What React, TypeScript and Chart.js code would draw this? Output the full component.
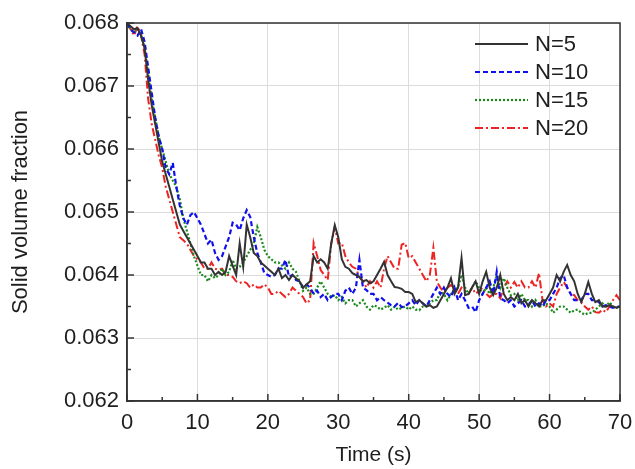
import React, { useEffect, useRef } from "react";
import { Chart, registerables } from "chart.js";

Chart.register(...registerables);

const TIME_STEP = 0.5;

const seriesLabels = ["N=5", "N=10", "N=15", "N=20"];

const n5 = [
  0.0680, 0.06795, 0.0679, 0.06792, 0.0678, 0.0676, 0.0671, 0.0667, 0.0664, 0.0661,
  0.0658, 0.0656, 0.0654, 0.0652, 0.0650, 0.0648, 0.0647, 0.0646, 0.0645, 0.0644,
  0.0643, 0.0642, 0.0642, 0.0641, 0.0641, 0.0640, 0.06405, 0.0640, 0.06405, 0.0643,
  0.06415, 0.0640, 0.0645, 0.06413, 0.0648, 0.0646, 0.06435, 0.0643, 0.0642, 0.06415,
  0.0641, 0.06405, 0.0640, 0.0641, 0.06395, 0.0640, 0.06392, 0.0640, 0.06395, 0.0639,
  0.0638, 0.06385, 0.0639, 0.0643, 0.0642, 0.06425, 0.0642, 0.0641, 0.0645, 0.06479,
  0.0646, 0.06425, 0.06413, 0.0641, 0.06403, 0.0640, 0.06397, 0.0639, 0.06392, 0.06387,
  0.0639, 0.0640, 0.0641, 0.06421, 0.0640, 0.0639, 0.06381, 0.0638, 0.06378, 0.06373,
  0.06373, 0.0637, 0.06357, 0.0636, 0.06355, 0.0635, 0.06352, 0.06348, 0.0635, 0.0636,
  0.0637, 0.0638, 0.06395, 0.0637, 0.0638, 0.06427, 0.06368, 0.0637, 0.0638, 0.0639,
  0.0637, 0.0639, 0.06405, 0.0638, 0.06368, 0.0638, 0.0640, 0.0637, 0.0636, 0.06365,
  0.0636, 0.0637, 0.06355, 0.0636, 0.0635, 0.0636, 0.06355, 0.0635, 0.0636, 0.0636,
  0.0637, 0.0638, 0.0640, 0.0639, 0.06405, 0.06416, 0.0640, 0.0639, 0.0637, 0.06357,
  0.0637, 0.06389, 0.0637, 0.06357, 0.0636, 0.0635, 0.0635, 0.06352, 0.0635, 0.06348,
  0.0635,
];

const n10 = [
  0.0680, 0.0679, 0.06785, 0.0678, 0.0679, 0.0677, 0.0673, 0.0669, 0.0665, 0.0662,
  0.0660, 0.0657, 0.0656, 0.06578, 0.0654, 0.0651, 0.0649, 0.0648, 0.06495, 0.0650,
  0.0649, 0.0648, 0.06465, 0.0645, 0.06456, 0.06435, 0.06424, 0.0643, 0.06445, 0.0646,
  0.06483, 0.0648, 0.06471, 0.0649, 0.06503, 0.06492, 0.0646, 0.06435, 0.0642, 0.06403,
  0.0640, 0.06397, 0.0640, 0.0641, 0.0641, 0.06424, 0.06397, 0.0640, 0.06392, 0.0639,
  0.0638, 0.06385, 0.0638, 0.0637, 0.06375, 0.06365, 0.0637, 0.0636, 0.06365, 0.0637,
  0.0637, 0.0636, 0.06375, 0.0638, 0.0637, 0.0638, 0.06424, 0.0638, 0.06376, 0.0637,
  0.0637, 0.0636, 0.06365, 0.0636, 0.06356, 0.06352, 0.0635, 0.06356, 0.06349, 0.0635,
  0.06355, 0.0636, 0.06352, 0.0636, 0.06355, 0.0635, 0.0636, 0.0637, 0.0638, 0.0637,
  0.0638, 0.0637, 0.06365, 0.0638, 0.0636, 0.0637, 0.0636, 0.06348, 0.0635, 0.06341,
  0.0636, 0.0637, 0.0638, 0.0639, 0.0637, 0.06405, 0.06363, 0.0636, 0.06355, 0.0636,
  0.0635, 0.06355, 0.0636, 0.0635, 0.06352, 0.0636, 0.0635, 0.06355, 0.0635, 0.0636,
  0.0636, 0.0637, 0.0638, 0.06395, 0.0640, 0.0638, 0.0637, 0.0636, 0.0636, 0.0636,
  0.0637, 0.0637, 0.0636, 0.0636, 0.06357, 0.0635, 0.06352, 0.0635, 0.06348, 0.0635,
  0.0635,
];

const n15 = [
  0.0680, 0.0679, 0.06785, 0.0679, 0.0678, 0.0676, 0.0672, 0.0668, 0.0665, 0.0662,
  0.0660, 0.0658, 0.0656, 0.0655, 0.0654, 0.0652, 0.0649, 0.0647, 0.0645, 0.0643,
  0.06415, 0.0640, 0.0640, 0.0639, 0.0640, 0.06395, 0.0640, 0.0641, 0.0640, 0.06405,
  0.06424, 0.0641, 0.06413, 0.0642, 0.0643, 0.0644, 0.0645, 0.06476, 0.0646, 0.0644,
  0.0643, 0.06425, 0.0642, 0.0642, 0.06415, 0.0641, 0.0642, 0.0641, 0.06405, 0.0639,
  0.06375, 0.0638, 0.0637, 0.0637, 0.0638, 0.0639, 0.0638, 0.0637, 0.06365, 0.06368,
  0.0636, 0.06365, 0.06355, 0.0636, 0.0636, 0.0635, 0.06355, 0.0636, 0.0635, 0.06345,
  0.06352, 0.0635, 0.06345, 0.06348, 0.06352, 0.06345, 0.0635, 0.06345, 0.06348, 0.0635,
  0.06345, 0.0635, 0.06345, 0.06344, 0.0635, 0.0635, 0.06355, 0.0636, 0.0636, 0.06373,
  0.0637, 0.0636, 0.0637, 0.06375, 0.0638, 0.0640, 0.0638, 0.0637, 0.0638, 0.0639,
  0.0638, 0.0637, 0.0638, 0.0637, 0.0638, 0.0640, 0.0638, 0.06395, 0.0638, 0.06368,
  0.0637, 0.0636, 0.0637, 0.0636, 0.0636, 0.0635, 0.0636, 0.0635, 0.0635, 0.06355,
  0.0635, 0.0634, 0.06345, 0.0635, 0.0635, 0.06345, 0.0634, 0.06344, 0.06345, 0.0634,
  0.06337, 0.0634, 0.0634, 0.06345, 0.0635, 0.06355, 0.0635, 0.06357, 0.0635, 0.06348,
  0.0635,
];

const n20 = [
  0.0680, 0.0679, 0.0678, 0.06795, 0.0678, 0.0675, 0.0668, 0.0664, 0.06615, 0.0659,
  0.0657, 0.0654, 0.0652, 0.0650, 0.0648, 0.0646, 0.06455, 0.0645, 0.0644, 0.0643,
  0.06425, 0.0642, 0.0641, 0.0641, 0.0642, 0.0641, 0.06408, 0.0641, 0.0640, 0.0640,
  0.06397, 0.0639, 0.06387, 0.0639, 0.06387, 0.0638, 0.06385, 0.0638, 0.0638, 0.06385,
  0.0638, 0.0637, 0.0637, 0.06375, 0.0637, 0.06365, 0.0637, 0.0638, 0.06375, 0.0637,
  0.06365, 0.06355, 0.0636, 0.06451, 0.0643, 0.06408, 0.0640, 0.06392, 0.0645, 0.06476,
  0.0645, 0.06451, 0.0643, 0.0642, 0.06413, 0.0641, 0.06397, 0.0639, 0.0638, 0.0639,
  0.0638, 0.0639, 0.0638, 0.0641, 0.0643, 0.0642, 0.0641, 0.0641, 0.06448, 0.06451,
  0.06427, 0.0643, 0.0642, 0.0641, 0.0640, 0.0639, 0.0640, 0.06443, 0.06389, 0.0638,
  0.06373, 0.0638, 0.06384, 0.0638, 0.0637, 0.0638, 0.06375, 0.0637, 0.0638, 0.0637,
  0.06375, 0.0638, 0.0637, 0.06365, 0.0637, 0.0637, 0.06363, 0.0638, 0.0639, 0.0638,
  0.06389, 0.0638, 0.0639, 0.0638, 0.0638, 0.0639, 0.0638, 0.06403, 0.0636, 0.0635,
  0.06355, 0.0635, 0.0637, 0.0638, 0.06389, 0.0638, 0.0637, 0.06368, 0.0636, 0.06357,
  0.0635, 0.06345, 0.0635, 0.06341, 0.0634, 0.06345, 0.06341, 0.0635, 0.0636, 0.06368,
  0.0636,
];

const xTicks = [0, 10, 20, 30, 40, 50, 60, 70];
const yTicks = [0.062, 0.063, 0.064, 0.065, 0.066, 0.067, 0.068];

const FONT = "'Liberation Sans', Arial, sans-serif";
const TEXT = "#1e1e1e";

const styles = [
  { color: "#333333", dash: [] as number[], width: 2 },
  { color: "#1010ee", dash: [5, 3], width: 2.2 },
  { color: "#1a8a1a", dash: [2, 2], width: 2.2 },
  { color: "#ee2222", dash: [8, 3, 2, 3], width: 2 },
];

const seriesValues = [n5, n10, n15, n20];

const framePlugin = {
  id: "frame",
  afterDatasetsDraw(chart: any) {
    const { ctx, chartArea } = chart;
    const xs = chart.scales.x;
    const ys = chart.scales.y;
    ctx.save();
    ctx.strokeStyle = "#333";
    ctx.lineWidth = 1.5;
    ctx.setLineDash([]);
    for (let v = 0; v <= 70; v += 5) {
      const px = xs.getPixelForValue(v);
      const len = v % 10 === 0 ? 7 : 4;
      ctx.beginPath();
      ctx.moveTo(px, chartArea.bottom);
      ctx.lineTo(px, chartArea.bottom - len);
      ctx.stroke();
    }
    for (let i = 0; i <= 12; i++) {
      const v = 0.062 + i * 0.0005;
      const py = ys.getPixelForValue(v);
      const len = i % 2 === 0 ? 7 : 4;
      ctx.beginPath();
      ctx.moveTo(chartArea.left, py);
      ctx.lineTo(chartArea.left + len, py);
      ctx.stroke();
    }
    ctx.strokeRect(chartArea.left, chartArea.top, chartArea.right - chartArea.left, chartArea.bottom - chartArea.top);

    const lx0 = chartArea.right - 145;
    const lx1 = chartArea.right - 92;
    const tx = chartArea.right - 85;
    const rows = [chartArea.top + 21, chartArea.top + 49, chartArea.top + 77, chartArea.top + 105];
    ctx.font = `22px ${FONT}`;
    ctx.textBaseline = "middle";
    ctx.textAlign = "left";
    chart.data.datasets.forEach((ds: any, i: number) => {
      const y = rows[i];
      ctx.strokeStyle = ds.borderColor;
      ctx.lineWidth = ds.borderWidth;
      ctx.setLineDash(ds.borderDash || []);
      ctx.beginPath();
      ctx.moveTo(lx0, y);
      ctx.lineTo(lx1, y);
      ctx.stroke();
      ctx.setLineDash([]);
      ctx.fillStyle = TEXT;
      ctx.fillText(ds.label, tx, y + 1);
    });
    ctx.restore();
  },
};

export default function App() {
  const ref = useRef<HTMLCanvasElement | null>(null);
  useEffect(() => {
    document.body.style.margin = "0";
    const canvas = ref.current;
    if (!canvas) return;
    const datasets = seriesValues.map((vals, i) => ({
      label: seriesLabels[i],
      data: vals.map((v, k) => ({ x: k * TIME_STEP, y: v })),
      borderColor: styles[i].color,
      borderDash: styles[i].dash,
      borderWidth: styles[i].width,
      pointRadius: 0,
      fill: false,
      tension: 0,
    }));
    const chart = new Chart(canvas, {
      type: "line",
      data: { datasets },
      options: {
        animation: false,
        responsive: false,
        maintainAspectRatio: false,
        layout: { padding: { top: 23, right: 15, left: 0, bottom: 0 } },
        plugins: { legend: { display: false }, tooltip: { enabled: false } },
        scales: {
          x: {
            type: "linear",
            min: 0,
            max: 70,
            afterBuildTicks: (s: any) => {
              s.ticks = xTicks.map((v) => ({ value: v }));
            },
            afterFit: (s: any) => {
              s.height = 68;
              s.paddingLeft = 0;
              s.paddingRight = 0;
            },
            ticks: {
              font: { family: FONT, size: 22 },
              color: TEXT,
              padding: 9,
              maxRotation: 0,
              autoSkip: false,
            },
            grid: { color: "#dcdcdc", lineWidth: 1, drawTicks: false },
            border: { color: "#333", width: 1.5 },
            title: {
              display: true,
              text: "Time (s)",
              font: { family: FONT, size: 21 },
              color: TEXT,
              padding: { top: 0, bottom: 1 },
            },
          },
          y: {
            type: "linear",
            min: 0.062,
            max: 0.068,
            afterBuildTicks: (s: any) => {
              s.ticks = yTicks.map((v) => ({ value: v }));
            },
            afterFit: (s: any) => {
              s.width = 127;
              s.paddingTop = 0;
              s.paddingBottom = 0;
            },
            ticks: {
              font: { family: FONT, size: 22 },
              color: TEXT,
              padding: 8,
              callback: (v: any) => Number(v).toFixed(3),
            },
            grid: { color: "#dcdcdc", lineWidth: 1, drawTicks: false },
            border: { color: "#333", width: 1.5 },
            title: {
              display: true,
              text: "Solid volume fraction",
              font: { family: FONT, size: 22 },
              color: TEXT,
              padding: { top: 8, bottom: 0 },
            },
          },
        },
      },
      plugins: [framePlugin],
    });
    return () => chart.destroy();
  }, []);
  return (
    <div style={{ width: 635, height: 469 }}>
      <canvas ref={ref} width={635} height={469} />
    </div>
  );
}
